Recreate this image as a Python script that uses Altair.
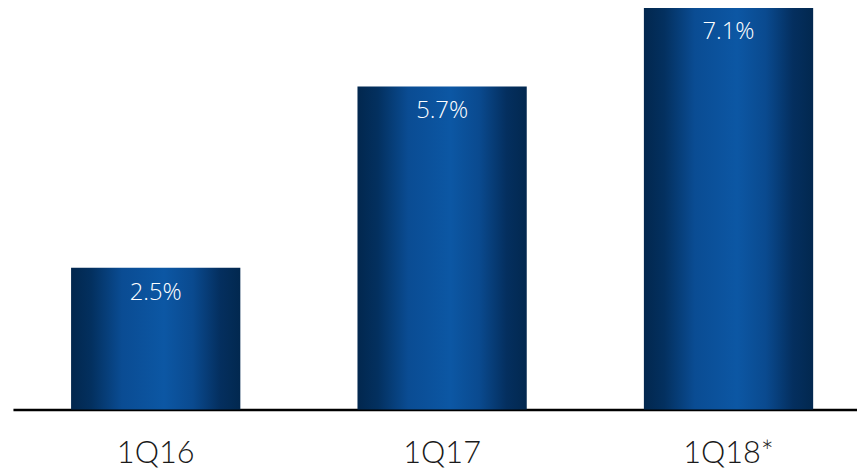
import altair as alt
import pandas as pd

periods = ["1Q16", "1Q17", "1Q18*"]
values = [2.5, 5.7, 7.1]
labels = ["2.5%", "5.7%", "7.1%"]

df = pd.DataFrame({"period": periods, "value": values, "label": labels})

grad = alt.Gradient(
    gradient="linear", x1=0, x2=1, y1=0, y2=0,
    stops=[
        alt.GradientStop(offset=0.0, color="#02274e"),
        alt.GradientStop(offset=0.12, color="#03305f"),
        alt.GradientStop(offset=0.3, color="#0a4c93"),
        alt.GradientStop(offset=0.55, color="#0c57a4"),
        alt.GradientStop(offset=0.72, color="#0a4a8f"),
        alt.GradientStop(offset=0.88, color="#042f5f"),
        alt.GradientStop(offset=1.0, color="#02284f"),
    ],
)

x = alt.X(
    "period:N", sort=periods, title=None,
    scale=alt.Scale(paddingInner=0.409, paddingOuter=0.178, align=0.57),
    axis=alt.Axis(
        labelAngle=0, labelFont="Lato", labelFontSize=31, labelColor="#1a1a1a",
        labelPadding=30, ticks=False, domainColor="#000000", domainWidth=2.5,
        labelFontWeight=300,
    ),
)
y = alt.Y("value:Q", scale=alt.Scale(domain=[0, 7.05], nice=False, zero=True), axis=None)

bars = alt.Chart(df).mark_bar(color=grad, clip=False).encode(x=x, y=y)
text = alt.Chart(df).mark_text(
    baseline="top", dy=13, color="white", font="Open Sans", fontSize=24, fontWeight=300,
    clip=False,
).encode(x=alt.X("period:N", sort=periods), y=y, text="label:N")

chart = (bars + text).properties(
    width=852, height=403,
    padding={"left": 5, "top": 0, "right": 0, "bottom": 61},
    autosize=alt.AutoSizeParams(type="none"),
).configure_view(stroke=None)

chart.save("out.html", embed_options={"renderer": "svg", "actions": False})
